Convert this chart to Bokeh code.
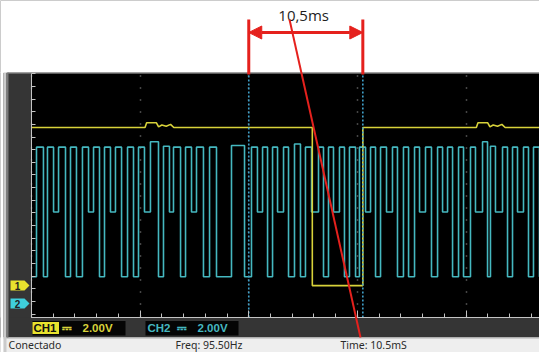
from bokeh.plotting import figure
from bokeh.models import (Range1d, BoxAnnotation, PolyAnnotation, Label, Arrow, NormalHead,
                          LinearAxis, SingleIntervalTicker, CustomJSTickFormatter, Grid)
from bokeh.embed import file_html
from bokeh.resources import INLINE

# ---------------- data ----------------
# CH1 (yellow): time in ms, volts
ch1_t_ms = [0.0, 10.45, 10.6, 11.5, 11.7, 12.0, 12.4, 12.8, 13.1, 25.85, 25.85, 30.5, 30.5,
            40.95, 41.1, 42.0, 42.2, 42.5, 42.9, 43.3, 43.6, 47.5]
ch1_v = [5.0, 5.0, 5.15, 5.15, 5.02, 5.08, 5.04, 5.1, 5.0, 5.0, 0.0, 0.0, 5.0,
         5.0, 5.15, 5.15, 5.02, 5.08, 5.04, 5.1, 5.0, 5.0]

# CH2 (cyan): rising / falling edge times in ms, pulse high level, level after each fall
ch2_start_v = 0.85
ch2_rise_ms = [0.46, 1.47, 2.49, 3.59, 4.69, 5.71, 6.72, 7.73, 8.84, 9.85, 10.95, 12.15, 13.07,
               14.18, 15.19, 16.39, 18.41, 20.25, 21.27, 22.19, 23.20, 24.21, 25.22, 26.42,
               27.34, 28.35, 29.27, 30.19, 31.21, 32.13, 33.23, 34.24, 35.26, 36.27, 37.38,
               38.30, 39.31, 40.41, 41.52, 42.25, 43.36, 44.28, 45.29, 46.21, 47.22]
ch2_fall_ms = [1.10, 2.03, 3.13, 4.14, 5.25, 6.26, 7.27, 8.29, 9.39, 10.40, 11.69, 12.70, 13.72,
               14.73, 15.83, 17.03, 19.61, 20.80, 21.73, 22.65, 23.66, 24.76, 25.78, 26.88,
               27.80, 28.81, 29.83, 30.75, 31.67, 32.68, 33.69, 34.71, 35.72, 36.82, 37.84,
               38.76, 39.77, 40.87, 41.98, 42.71, 43.82, 44.74, 45.75, 46.76]
ch2_high_v = [4.95, 4.95, 4.95, 4.95, 4.95, 4.95, 4.95, 4.95, 4.95, 4.95, 5.12, 4.98, 4.95,
              4.95, 4.95, 4.95, 5.0, 4.95, 4.95, 4.95, 4.95, 5.05, 4.95, 4.95,
              4.95, 4.95, 4.95, 4.95, 4.95, 4.95, 4.95, 4.95, 4.95, 4.95, 4.95,
              4.95, 4.95, 4.95, 5.12, 4.98, 4.95, 4.95, 4.95, 4.95, 4.95]
ch2_low_v = [0.85, 2.9, 0.85, 0.85, 2.9, 0.85, 2.9, 0.85, 0.85, 2.9, 0.85, 2.9, 0.85,
             2.9, 0.85, 0.85, 0.85, 2.9, 0.85, 2.9, 0.85, 0.85, 2.9, 0.85,
             2.9, 0.85, 0.85, 2.9, 0.85, 2.9, 0.85, 0.85, 2.9, 0.85, 2.9,
             0.85, 0.85, 2.9, 0.85, 2.9, 0.85, 2.9, 0.85, 0.85]

ch1_offset = 0.1     # screen position of CH1 ground
ch2_offset = -0.47   # screen position of CH2 ground
cursor_a_ms = 20.0
cursor_b_ms = 30.5
delta_text = "10,5ms"
ch1_scale = "2.00V"
ch2_scale = "2.00V"
status_texts = ["Conectado", "Freq: 95.50Hz", "Time: 10.5mS"]

# ---------------- build traces ----------------
ch1_x = list(ch1_t_ms)
ch1_y = [v + ch1_offset for v in ch1_v]

ch2_x = [0.0]
ch2_y = [ch2_start_v + ch2_offset]
prev_low = ch2_start_v
for i, r in enumerate(ch2_rise_ms):
    hi = ch2_high_v[i]
    ch2_x += [r, r]
    ch2_y += [prev_low + ch2_offset, hi + ch2_offset]
    if i < len(ch2_fall_ms):
        f = ch2_fall_ms[i]
        lo = ch2_low_v[i]
        ch2_x += [f, f]
        ch2_y += [hi + ch2_offset, lo + ch2_offset]
        prev_low = lo
    else:
        ch2_x.append(47.5)
        ch2_y.append(hi + ch2_offset)

# ---------------- geometry ----------------
T0, T1 = 0.0, 47.5          # visible time window of the scope screen (ms)
V0, V1 = -0.91, 6.81        # visible screen span (V)
FL, FT, FW, FH = 31, 73, 516, 244   # scope screen position (px)
W, H = 539, 352


def X(px):
    return T0 + (px - FL) * (T1 - T0) / FW


def Y(py):
    return V1 - (py - FT) * (V1 - V0) / FH


YEL = "#d8d23a"
CYA = "#45b8c0"
RED = "#e5211d"
DARK = "#353535"

p = figure(width=W, height=H, output_backend="svg", toolbar_location=None,
           x_range=Range1d(X(0), X(W)), y_range=Range1d(Y(H), Y(0)),
           x_axis_type=None, y_axis_type=None,
           min_border_left=0, min_border_right=0, min_border_top=0, min_border_bottom=0)
p.background_fill_color = DARK
p.border_fill_color = DARK
p.outline_line_color = None


def box(l, r, t, b, color, level="underlay"):
    p.add_layout(BoxAnnotation(left=X(l), right=X(r), top=Y(t), bottom=Y(b), level=level,
                               fill_color=color, fill_alpha=1, line_color=None))


# scope screen
p.add_layout(BoxAnnotation(left=T0, right=X(600), top=V1, bottom=V0, level="underlay",
                           fill_color="#000000", fill_alpha=1, line_color=None))
grid = Grid(dimension=0, ticker=SingleIntervalTicker(interval=10),
            grid_line_color="#8a8a8a", grid_line_dash="1 11", grid_line_width=1.5)
p.add_layout(grid)

# surroundings (drawn over the grid lines outside the screen)
box(-10, 600, -10, 72.5, "white")
box(7, 600, 71.5, 73, "#a0a0a0")
box(-10, 600, 317, 338, DARK)
box(-10, 600, 337, 400, "#eeeeee")
box(-10, 600, 337, 338.5, "#cfcfcf")
box(-10, 3, 72, 400, "white")
box(3, 6, 72, 400, "#cbcbcb")
box(6, 8, 72, 337, "#7a7a7a")

# screen axes with inward ticks
empty = CustomJSTickFormatter(code="return ''")
ax_l = LinearAxis(ticker=SingleIntervalTicker(interval=0.4, num_minor_ticks=0), formatter=empty,
                  fixed_location=T0, bounds=(V0, V1))
ax_l.major_tick_in = 4
ax_l.major_tick_out = 0
ax_l.minor_tick_in = 0
ax_l.minor_tick_out = 0
ax_l.major_label_standoff = 0
ax_l.axis_line_color = "#c4c4c4"
ax_l.major_tick_line_color = "#c4c4c4"
p.add_layout(ax_l, "left")

ax_b = LinearAxis(ticker=SingleIntervalTicker(interval=10, num_minor_ticks=5),
                  formatter=CustomJSTickFormatter(code="return ''"),
                  fixed_location=V0, bounds=(T0, T1))
ax_b.major_tick_in = 7
ax_b.major_tick_out = 0
ax_b.minor_tick_in = 4
ax_b.minor_tick_out = 0
ax_b.major_label_standoff = 0
ax_b.axis_line_color = "#c4c4c4"
ax_b.major_tick_line_color = "#c4c4c4"
ax_b.minor_tick_line_color = "#c4c4c4"
p.add_layout(ax_b, "below")

# traces
p.line(ch2_x, ch2_y, line_color=CYA, line_width=1.6)
p.line(ch1_x, ch1_y, line_color=YEL, line_width=1.6)

# cursors
p.segment(x0=[cursor_a_ms, cursor_b_ms], x1=[cursor_a_ms, cursor_b_ms],
          y0=[V0, V0], y1=[V1, V1], line_color="#3f9fc8", line_dash="2 2", line_width=1.6)

# channel ground markers
for off, col, txt in ((ch1_offset, "#e8e22e", "1"), (ch2_offset, "#3fd0dc", "2")):
    h = 5 * (V1 - V0) / FH
    p.add_layout(PolyAnnotation(xs=[X(10), X(24), X(29), X(24), X(10)],
                                ys=[off + h, off + h, off, off - h, off - h],
                                fill_color=col, fill_alpha=1, line_color=None))
    p.add_layout(Label(x=X(17), y=off, text=txt, text_align="center", text_baseline="middle",
                       text_font="Liberation Sans", text_font_size="10px",
                       text_font_style="bold", text_color="#222222"))

# channel scale boxes
box(32, 125, 320.5, 335, "#050505", level="annotation")
box(32, 58.5, 321.5, 333.5, "#e8e22e", level="annotation")
box(145, 238, 320.5, 335, "#050505", level="annotation")

lab_y = Y(327.5)
for x, t, col in ((33, "CH1", "#111111"), (61, "\u2393", YEL), (82, ch1_scale, YEL),
                  (147, "CH2", CYA), (176, "\u2393", CYA), (197, ch2_scale, CYA)):
    p.add_layout(Label(x=X(x), y=lab_y, text=t, text_align="left", text_baseline="middle",
                       text_font="DejaVu Sans" if t == "\u2393" else "Liberation Sans",
                       text_font_size="11.5px", text_font_style="bold", text_color=col))

# status bar
for x, t in zip((8, 175, 340), status_texts):
    p.add_layout(Label(x=X(x), y=Y(344.5), text=t, text_align="left", text_baseline="middle",
                       text_font="Noto Sans", text_font_size="10.5px", text_color="#2a2a2a"))

# ---------------- red annotation ----------------
for c in (cursor_a_ms, cursor_b_ms):
    p.add_layout(Arrow(end=None, x_start=c, y_start=Y(19), x_end=c, y_end=Y(74),
                       line_color=RED, line_width=3, level="overlay"))
p.add_layout(Arrow(x_start=cursor_a_ms, y_start=Y(32), x_end=cursor_b_ms, y_end=Y(32),
                   start=NormalHead(size=13, fill_color=RED, line_color=RED),
                   end=NormalHead(size=13, fill_color=RED, line_color=RED),
                   line_color=RED, line_width=3, level="overlay"))
p.add_layout(Arrow(end=None, x_start=X(289), y_start=Y(19), x_end=X(360), y_end=Y(337),
                   line_color=RED, line_width=2, level="overlay"))
p.add_layout(Label(x=(cursor_a_ms + cursor_b_ms) / 2 - 0.2, y=Y(14), text=delta_text,
                   text_align="center", text_baseline="middle", text_font="Open Sans",
                   text_font_size="15px", text_color="#1e1e1e"))

open("out.html", "w").write(file_html(p, INLINE))
